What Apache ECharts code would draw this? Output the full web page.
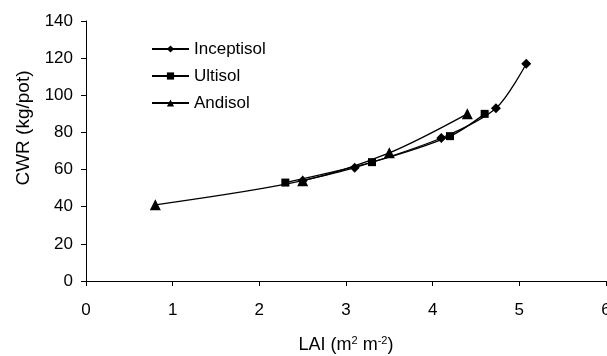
<!DOCTYPE html>
<html><head><meta charset="utf-8">
<script src="https://cdn.jsdelivr.net/npm/echarts@6/dist/echarts.min.js"></script>
<style>html,body{margin:0;padding:0;background:#fff}#c{width:607px;height:356px}</style>
</head><body><div id="c"></div>
<script>
const inceptisol = [[2.5, 54], [3.1, 61], [4.1, 77], [4.73, 93], [5.08, 117]];
const ultisol = [[2.3, 53], [3.3, 64], [4.2, 78], [4.6, 90]];
const andisol = [[0.8, 41], [2.5, 54], [3.5, 69], [4.4, 90]];
const seriesNames = ['Inceptisol', 'Ultisol', 'Andisol'];
const yTitle = 'CWR (kg/pot)';

const font = 'Liberation Sans, Arial, sans-serif';
const chart = echarts.init(document.getElementById('c'), null, {renderer: 'canvas'});
const mk = (name, data, symbol, size) => ({
  name, type: 'line', data, symbol, symbolSize: size, smooth: 0.3,
  lineStyle: {color: '#000', width: 1.3}, itemStyle: {color: '#000'},
  emphasis: {disabled: true}, animation: false
});
chart.setOption({
  animation: false,
  grid: {left: 86, right: 1, top: 21, bottom: 75, containLabel: false, outerBoundsMode: 'none'},
  legend: {
    left: 146, top: 35, orient: 'vertical', itemGap: 9, itemWidth: 37, itemHeight: 9,
    textStyle: {fontFamily: font, fontSize: 17, color: '#000', lineHeight: 18},
    data: seriesNames
  },
  xAxis: {
    type: 'value', min: 0, max: 6, interval: 1,
    name: '{a|LAI (m}{s|2}{a| m}{s|-2}{a|)}', nameLocation: 'middle', nameGap: 54,
    nameTextStyle: {rich: {
      a: {fontFamily: font, fontSize: 18, color: '#000', lineHeight: 20},
      s: {fontFamily: font, fontSize: 11, color: '#000', lineHeight: 20, padding: [0, 0, 9, 0]}
    }},
    axisLine: {lineStyle: {color: '#000', width: 1}},
    axisTick: {length: 5, lineStyle: {color: '#000'}},
    axisLabel: {fontFamily: font, fontSize: 17, color: '#000', margin: 21},
    splitLine: {show: false}
  },
  yAxis: {
    type: 'value', min: 0, max: 140, interval: 20,
    name: yTitle, nameLocation: 'middle', nameGap: 51,
    nameTextStyle: {fontFamily: font, fontSize: 19, color: '#000', padding: [0, 0, 0, 46]},
    axisLine: {show: true, lineStyle: {color: '#000', width: 1}},
    axisTick: {show: true, length: 5, lineStyle: {color: '#000'}},
    axisLabel: {fontFamily: font, fontSize: 17, color: '#000', margin: 13},
    splitLine: {show: false}
  },
  series: [
    mk(seriesNames[0], inceptisol, 'diamond', 10),
    mk(seriesNames[1], ultisol, 'rect', 8),
    mk(seriesNames[2], andisol, 'triangle', 11)
  ]
});
</script></body></html>
